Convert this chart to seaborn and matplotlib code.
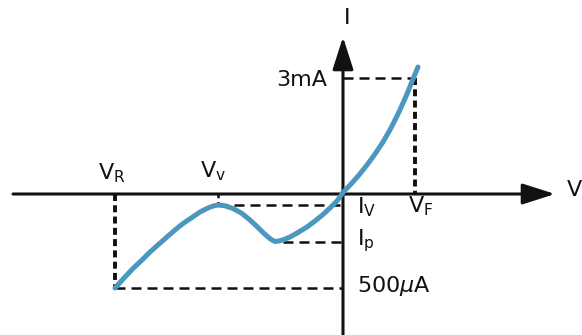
import matplotlib
matplotlib.use("Agg")
import numpy as np
import pandas as pd
import matplotlib.pyplot as plt
import seaborn as sns

# I-V curve (arbitrary units, origin at the axes crossing)
voltage = [-228, -219, -210, -201, -193, -184, -176, -168, -160, -151, -143,
           -134, -129, -125, -118, -110, -101, -93, -86, -80, -75, -71, -68,
           -64, -59, -53, -45, -36, -28, -20, -13, -6, 0, 8, 16, 24, 32, 40,
           48, 56, 64, 70, 75]
current = [-94, -84, -74.5, -66, -58, -50, -43, -36, -29.5, -23.5, -18,
           -13.5, -11.8, -11, -11.8, -14.5, -19.5, -26, -32.5, -38.5, -43, -46, -47.5,
           -47, -45.5, -43, -38.5, -33, -27, -20.5, -14, -7, 1.5, 10, 19, 29, 40, 52,
           66, 82, 100, 115, 127]

# marked levels
v_r, v_v, v_f = -228, -125, 72
i_top, i_v, i_p, i_bot = 116, -11, -48, -94

sns.set_style("white")
plt.rcParams['font.family'] = ['DejaVu Sans']
plt.rcParams['mathtext.fontset'] = 'dejavusans'

fig = plt.figure(figsize=(5.82, 3.35), dpi=100)
ax = fig.add_axes([0, 0, 1, 1])
ax.set_xlim(-343, 239)
ax.set_ylim(-141, 194)
ax.axis('off')

ink = '#111111'
curve_col = '#4b97bf'

# dashed guide lines
hdash = dict(color=ink, lw=1.8, dashes=(4, 2.4), zorder=2)
vdash = dict(color=ink, lw=2.8, dashes=(1.8, 1.1), zorder=2)
ax.plot([v_r, 0], [i_bot, i_bot], **hdash)
ax.plot([v_v, 0], [i_v, i_v], **hdash)
ax.plot([-60, 0], [i_p, i_p], **hdash)
ax.plot([0, v_f], [i_top, i_top], **hdash)
ax.plot([v_r, v_r], [0, i_bot], **vdash)
ax.plot([v_f, v_f], [i_top, 0], **vdash)
ax.plot([v_v, v_v], [0, i_v], color=ink, lw=1.8, dashes=(1.5, 1.5), zorder=2)

# axes with arrows
arrow = dict(arrowstyle='-|>,head_length=1.0,head_width=0.32', lw=2.2, color=ink,
             mutation_scale=20, shrinkA=0, shrinkB=0)
ax.annotate('', xy=(212, 0), xytext=(-330, 0), arrowprops=arrow, zorder=3)
ax.annotate('', xy=(0, 157), xytext=(0, -141), arrowprops=arrow, zorder=3)

# the curve
df = pd.DataFrame({'V': voltage, 'I': current})
sns.lineplot(data=df, x='V', y='I', sort=False, estimator=None, color=curve_col,
             lw=3.6, ax=ax, zorder=4, solid_capstyle='round', solid_joinstyle='round')

fs = 16
ax.text(4, 176, 'I', fontsize=fs, ha='center', va='center', color=ink)
ax.text(224, 4, 'V', fontsize=fs, ha='left', va='center', color=ink)
ax.text(-16, 114, '3mA', fontsize=fs, ha='right', va='center', color=ink)
ax.text(-245, 15, r'V$_\mathregular{R}$', fontsize=fs, ha='left', va='baseline', color=ink)
ax.text(-143, 17, r'V$_\mathregular{v}$', fontsize=fs, ha='left', va='baseline', color=ink)
ax.text(14, -19, r'I$_\mathregular{V}$', fontsize=fs, ha='left', va='baseline', color=ink)
ax.text(65, -18, r'V$_\mathregular{F}$', fontsize=fs, ha='left', va='baseline', color=ink)
ax.text(14, -51, r'I$_\mathregular{p}$', fontsize=fs, ha='left', va='baseline', color=ink)
ax.text(14, -98, r'500$\mu$A', fontsize=fs, ha='left', va='baseline', color=ink)

fig.savefig('out.png', dpi=100)
